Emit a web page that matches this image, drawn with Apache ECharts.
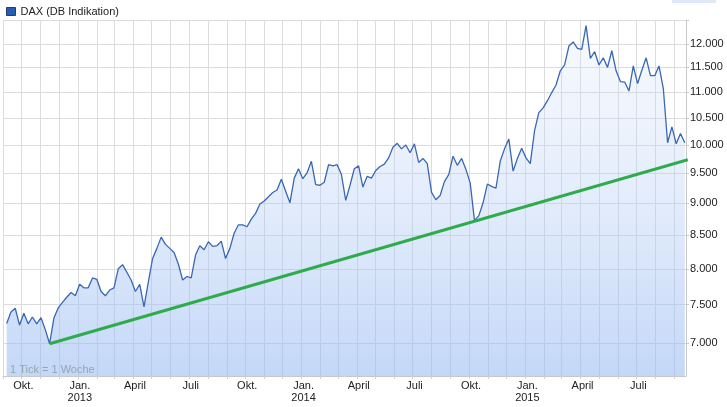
<!DOCTYPE html>
<html><head><meta charset="utf-8">
<script src="https://cdn.jsdelivr.net/npm/echarts@6/dist/echarts.min.js"></script>
<style>html,body{margin:0;padding:0;background:#fff}#c{width:727px;height:407px}</style>
</head><body><div id="c"></div>
<script>
// ---- data ----
const seriesName = 'DAX (DB Indikation)';
const firstWeek = '2012-09-07';   // weekly closes, one point per week
const daxWeekly = [
  7250,7400,7450,7230,7385,7245,7335,7245,7325,7170,
  6990,7320,7455,7530,7600,7665,7620,7780,7730,7730,
  7870,7850,7680,7620,7700,7730,8000,8060,7950,7840,
  7680,7780,7470,7810,8150,8300,8470,8360,8300,8240,
  8070,7840,7890,7870,8200,8340,8280,8400,8330,8340,
  8410,8150,8300,8530,8660,8660,8630,8750,8840,8990,
  9040,9110,9180,9220,9400,9200,9010,9420,9580,9410,
  9510,9710,9310,9300,9350,9650,9630,9650,9480,9050,
  9300,9580,9630,9270,9450,9420,9550,9620,9660,9770,
  9960,10030,9930,10000,9860,10020,9690,9760,9670,9180,
  9060,9130,9360,9480,9800,9640,9760,9570,9340,8730,
  8800,9010,9320,9280,9250,9710,9930,10110,9540,9760,
  9940,9770,9670,10260,10600,10690,10830,10990,11140,11430,
  11550,11950,12040,11900,11880,12400,11690,11830,11550,11700,
  11500,11850,11430,11210,11200,11020,11530,11170,11440,11700,
  11330,11330,11530,11070,10040,10330,10020,10210,10040
];
const trendDates = ['2012-11-16', '2015-09-23'];
const trendValues = [6990, 9737];
const yTickValues = [7000, 7500, 8000, 8500, 9000, 9500, 10000, 10500, 11000, 11500, 12000];
const xLabelDates = ['2012-10-01','2013-01-01','2013-04-01','2013-07-01','2013-10-01',
  '2014-01-01','2014-04-01','2014-07-01','2014-10-01','2015-01-01','2015-04-01','2015-07-01'];
const monthNames = {0: 'Jan.', 3: 'April', 6: 'Juli', 9: 'Okt.'};
const xRange = ['2012-09-01', '2015-09-20'];
const yRange = [6595, 12525];
const watermark = '1 Tick = 1 Woche';

// ---- helpers ----
function ts(s) { const p = s.split('-').map(Number); return Date.UTC(p[0], p[1] - 1, p[2]); }
const lg = v => Math.log10(v);
const DAY = 86400000;
const start = ts(firstWeek);
const daxData = daxWeekly.map((v, i) => [start + i * 7 * DAY, lg(v)]);
const trendData = trendDates.map((d, i) => [ts(d), lg(trendValues[i])]);
const monthTicks = [];
for (let y = 2012, m = 8; y < 2015 || (y === 2015 && m <= 8); m++) {
  if (m > 11) { m = 0; y++; }
  if (y > 2015 || (y === 2015 && m > 8)) break;
  monthTicks.push(Date.UTC(y, m, 1));
}
const fmtThousand = n => String(n).replace(/\B(?=(\d{3})+(?!\d))/g, '.');
const FONT = 'Liberation Sans, Arial, sans-serif';

const chart = echarts.init(document.getElementById('c'), null, {renderer: 'canvas'});
chart.setOption({
  animation: false,
  backgroundColor: '#ffffff',
  textStyle: {fontFamily: FONT},
  legend: {
    data: [{name: seriesName, icon: 'rect', itemStyle: {color: '#2a5cb0', borderColor: '#1b3f7e', borderWidth: 1}}],
    left: 1, top: 6, itemWidth: 9, itemHeight: 8, itemGap: 4, padding: [0, 5],
    selectedMode: false,
    textStyle: {fontSize: 11, color: '#222', fontFamily: FONT}
  },
  grid: {left: 3, right: 41, top: 20, bottom: 31, containLabel: false},
  xAxis: {
    type: 'value',
    min: ts(xRange[0]), max: ts(xRange[1]),
    axisLine: {show: true, onZero: false, lineStyle: {color: '#c8c8c8', width: 1}},
    axisTick: {show: true, length: 3, customValues: monthTicks, lineStyle: {color: '#d0d0d0'}},
    splitLine: {show: true, lineStyle: {color: '#dcdcdc', width: 1}},
    axisLabel: {
      customValues: xLabelDates.map(ts),
      margin: 4, fontSize: 11, color: '#222', fontFamily: FONT, lineHeight: 12,
      padding: [0, 0, 0, 4], hideOverlap: false,
      formatter: function (v) {
        const d = new Date(v);
        const m = d.getUTCMonth();
        const n = monthNames[m] || '';
        return m === 0 ? n + '\n' + d.getUTCFullYear() : n;
      }
    }
  },
  yAxis: {
    type: 'value', position: 'right',
    min: lg(yRange[0]), max: lg(yRange[1]),
    axisLine: {show: true, lineStyle: {color: '#c8c8c8', width: 1}},
    axisTick: {show: true, length: 3, inside: false,
      customValues: yTickValues.map(lg).concat([lg(yRange[1])]), lineStyle: {color: '#c8c8c8'}},
    splitLine: {show: true, lineStyle: {color: '#dcdcdc', width: 1}},
    axisLabel: {
      customValues: yTickValues.map(lg),
      margin: 4, fontSize: 11, color: '#222', fontFamily: FONT,
      formatter: v => fmtThousand(Math.round(Math.pow(10, v) / 10) * 10)
    }
  },
  graphic: [
    {type: 'rect', left: 672, top: 0, shape: {width: 44, height: 3}, style: {fill: '#dfe8f6'}, z: 0},
    {type: 'text', left: 10, top: 364, z: 100,
      style: {text: watermark, fill: '#9aa3ad', font: '11px ' + FONT}}
  ],
  series: [
    {
      name: seriesName, type: 'line', data: daxData, showSymbol: false, symbol: 'none',
      lineStyle: {color: '#3a67b4', width: 1.3},
      itemStyle: {color: '#2a5cb0'},
      areaStyle: {
        origin: 'start',
        color: new echarts.graphic.LinearGradient(0, 0, 0, 1, [
          {offset: 0, color: 'rgba(215,228,250,0.3)'},
          {offset: 1, color: 'rgba(148,184,242,0.8)'}
        ])
      },
      z: 2
    },
    {
      name: 'Trend', type: 'line', data: trendData, showSymbol: false, symbol: 'none',
      clip: false, lineStyle: {color: '#2eab4b', width: 3}, z: 3
    }
  ]
});
</script></body></html>
